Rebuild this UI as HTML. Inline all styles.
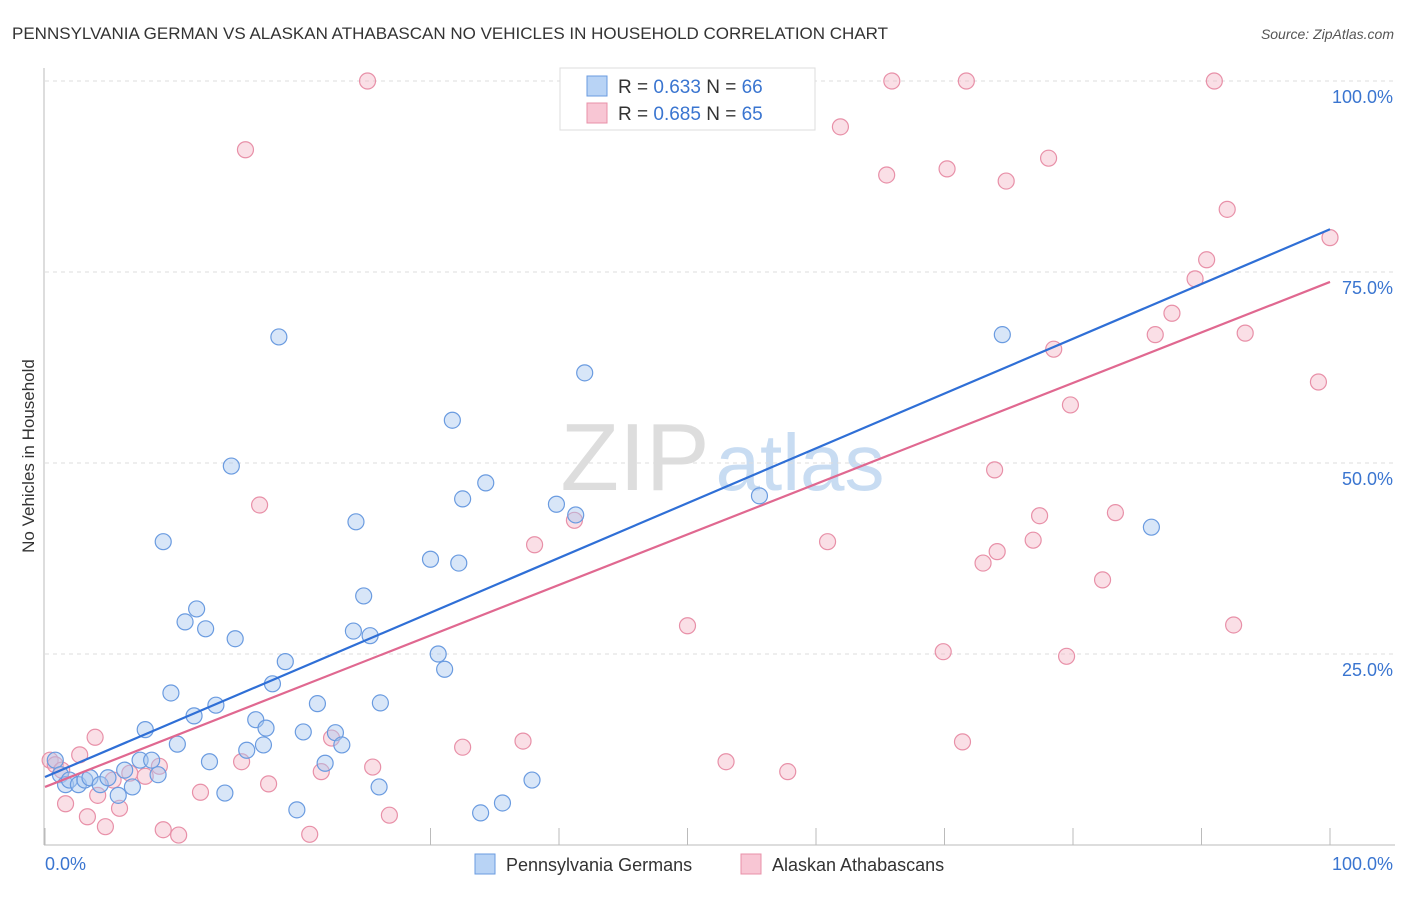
<!DOCTYPE html>
<html><head><meta charset="utf-8"><style>
body{margin:0;background:#fff;font-family:"Liberation Sans",sans-serif;}
svg text{font-family:"Liberation Sans",sans-serif;}
</style></head><body>
<svg id="chart" width="1406" height="892" xmlns="http://www.w3.org/2000/svg">
<text x="12" y="39" font-size="17" fill="#333">PENNSYLVANIA GERMAN VS ALASKAN ATHABASCAN NO VEHICLES IN HOUSEHOLD CORRELATION CHART</text>
<text x="1394" y="39" font-size="14" fill="#555" font-style="italic" text-anchor="end">Source: ZipAtlas.com</text>
<g>
<text x="635" y="490" font-size="96" fill="#ddd" font-family="Liberation Serif" text-anchor="middle">ZIP</text>
<text x="800" y="490" font-size="80" fill="#c8dcf2" text-anchor="middle">atlas</text>
</g>
<g id="grid"></g>
<g id="axes"></g>
<g id="pts"></g>
<g id="lines"></g>
<text transform="translate(34,456) rotate(-90)" font-size="17" fill="#333" text-anchor="middle">No Vehicles in Household</text>
<g>
<rect x="560" y="68" width="255" height="62" fill="#fff" stroke="#ddd"/>
<rect x="587" y="76" width="20" height="20" fill="#b8d3f5" stroke="#6a9be0"/>
<text x="618" y="93" font-size="19" fill="#333">R = <tspan fill="#3a75d0">0.633</tspan>   N = <tspan fill="#3a75d0">66</tspan></text>
<rect x="587" y="103" width="20" height="20" fill="#f8c6d4" stroke="#e890a8"/>
<text x="618" y="120" font-size="19" fill="#333">R = <tspan fill="#3a75d0">0.685</tspan>   N = <tspan fill="#3a75d0">65</tspan></text>
</g>
<g>
<rect x="475" y="854" width="20" height="20" fill="#b8d3f5" stroke="#6a9be0"/>
<text x="506" y="871" font-size="18" fill="#333">Pennsylvania Germans</text>
<rect x="741" y="854" width="20" height="20" fill="#f8c6d4" stroke="#e890a8"/>
<text x="772" y="871" font-size="18" fill="#333">Alaskan Athabascans</text>
</g>
</svg>
<script>
const blueX=[0.8,1.2,1.6,1.9,2.6,3.1,3.5,4.3,4.9,5.7,6.2,6.8,7.4,7.8,8.3,8.8,9.2,9.8,10.3,10.9,11.6,11.8,12.5,12.8,13.3,14.0,14.5,14.8,15.7,16.4,17.0,17.2,17.7,18.2,18.7,19.6,20.1,21.2,21.8,22.6,23.1,24.0,24.2,24.8,25.3,26.0,26.1,30.0,30.6,31.1,31.7,32.2,32.5,33.9,34.3,35.6,37.9,39.8,41.3,42.0,54.0,55.6,74.5,86.1];
const blueY=[11.1,9.2,7.9,8.5,7.9,8.5,8.8,7.9,8.8,6.5,9.8,7.6,11.1,15.1,11.1,9.2,39.7,19.9,13.2,29.2,16.9,30.9,28.3,10.9,18.3,6.8,49.6,27.0,12.4,16.4,13.1,15.3,21.1,66.5,24.0,4.6,14.8,18.5,10.7,14.7,13.1,28.0,42.3,32.6,27.4,7.6,18.6,37.4,25.0,23.0,55.6,36.9,45.3,4.2,47.4,5.5,8.5,44.6,43.2,61.8,100,45.7,66.8,41.6];
const pinkX=[0.4,0.8,1.3,1.6,2.7,3.3,3.9,4.1,4.7,5.3,5.8,6.6,7.8,8.9,9.2,10.4,12.1,15.3,15.6,16.7,17.4,20.6,21.5,22.3,25.1,25.5,26.8,32.5,37.2,38.1,41.2,50.0,53.0,57.8,60.9,61.9,65.5,65.9,69.9,70.2,71.4,71.7,73.0,73.9,74.1,74.8,76.9,77.4,78.1,78.5,79.5,79.8,82.3,83.3,86.4,87.7,89.5,90.4,91.0,92.0,92.5,93.4,99.1,100];
const pinkY=[11.1,10.5,9.8,5.4,11.8,3.7,14.1,6.5,2.4,8.5,4.8,9.4,9.0,10.3,2.0,1.3,6.9,10.9,91.0,44.5,8.0,1.4,9.6,14.0,100,10.2,3.9,12.8,13.6,39.3,42.5,28.7,10.9,9.6,39.7,94.0,87.7,100,25.3,88.5,13.5,100,36.9,49.1,38.4,86.9,39.9,43.1,89.9,64.9,24.7,57.6,34.7,43.5,66.8,69.6,74.1,76.6,100,83.2,28.8,67.0,60.6,79.5];
const blueTrend=[8.9,80.6];
const pinkTrend=[7.6,73.7];
const yTicks=[25,50,75,100];
const yTickLabels=["25.0%","50.0%","75.0%","100.0%"];
const xTicks=[0,10,20,30,40,50,60,70,80,90,100];

const NS="http://www.w3.org/2000/svg";
const sx=v=>45+12.85*v, sy=v=>845-7.64*v;
function mk(p,tag,a){const e=document.createElementNS(NS,tag);for(const k in a)e.setAttribute(k,a[k]);p.appendChild(e);return e;}
const grid=document.getElementById('grid'),axes=document.getElementById('axes'),pts=document.getElementById('pts'),lines=document.getElementById('lines');
yTicks.forEach((t,i)=>{
 const l=mk(grid,'line',{x1:45,x2:1395,y1:sy(t),y2:sy(t),stroke:'#ddd','stroke-dasharray':'4,4'});
 
 
 const tx=mk(axes,'text',{x:1393,y:sy(t)+22,'font-size':18,fill:'#3a75d0','text-anchor':'end'});
 tx.textContent=yTickLabels[i];
 
 
});
const ya=mk(axes,'line',{x1:44,x2:44,y1:68,y2:845,stroke:'#bbb'});


const xa=mk(axes,'line',{x1:44,x2:1395,y1:845,y2:845,stroke:'#bbb'});


xTicks.forEach(t=>{
 if(t===10||t===20)return;
 const l=mk(axes,'line',{x1:sx(t),x2:sx(t),y1:828,y2:845,stroke:'#bbb'});
 
 
});
const x0=mk(axes,'text',{x:45,y:870,'font-size':18,fill:'#3a75d0'});x0.textContent='0.0%';


const x1=mk(axes,'text',{x:1393,y:870,'font-size':18,fill:'#3a75d0','text-anchor':'end'});x1.textContent='100.0%';


function series(X,Y,fill,stroke,name){
 X.forEach((x,i)=>{
  const c=mk(pts,'circle',{cx:sx(x),cy:sy(Y[i]),r:8,fill:fill,'fill-opacity':0.45,stroke:stroke,'stroke-width':1.2});
  
  
 });
}
series(pinkX,pinkY,'#f5b8c8','#e890a8','pink-point');
series(blueX,blueY,'#a8c8f0','#6a9be0','blue-point');
const bl=mk(lines,'line',{x1:sx(0),y1:sy(blueTrend[0]),x2:sx(100),y2:sy(blueTrend[1]),stroke:'#2f6fd6','stroke-width':2.2});


const pl=mk(lines,'line',{x1:sx(0),y1:sy(pinkTrend[0]),x2:sx(100),y2:sy(pinkTrend[1]),stroke:'#e06890','stroke-width':2.2});


</script>
</body></html>
